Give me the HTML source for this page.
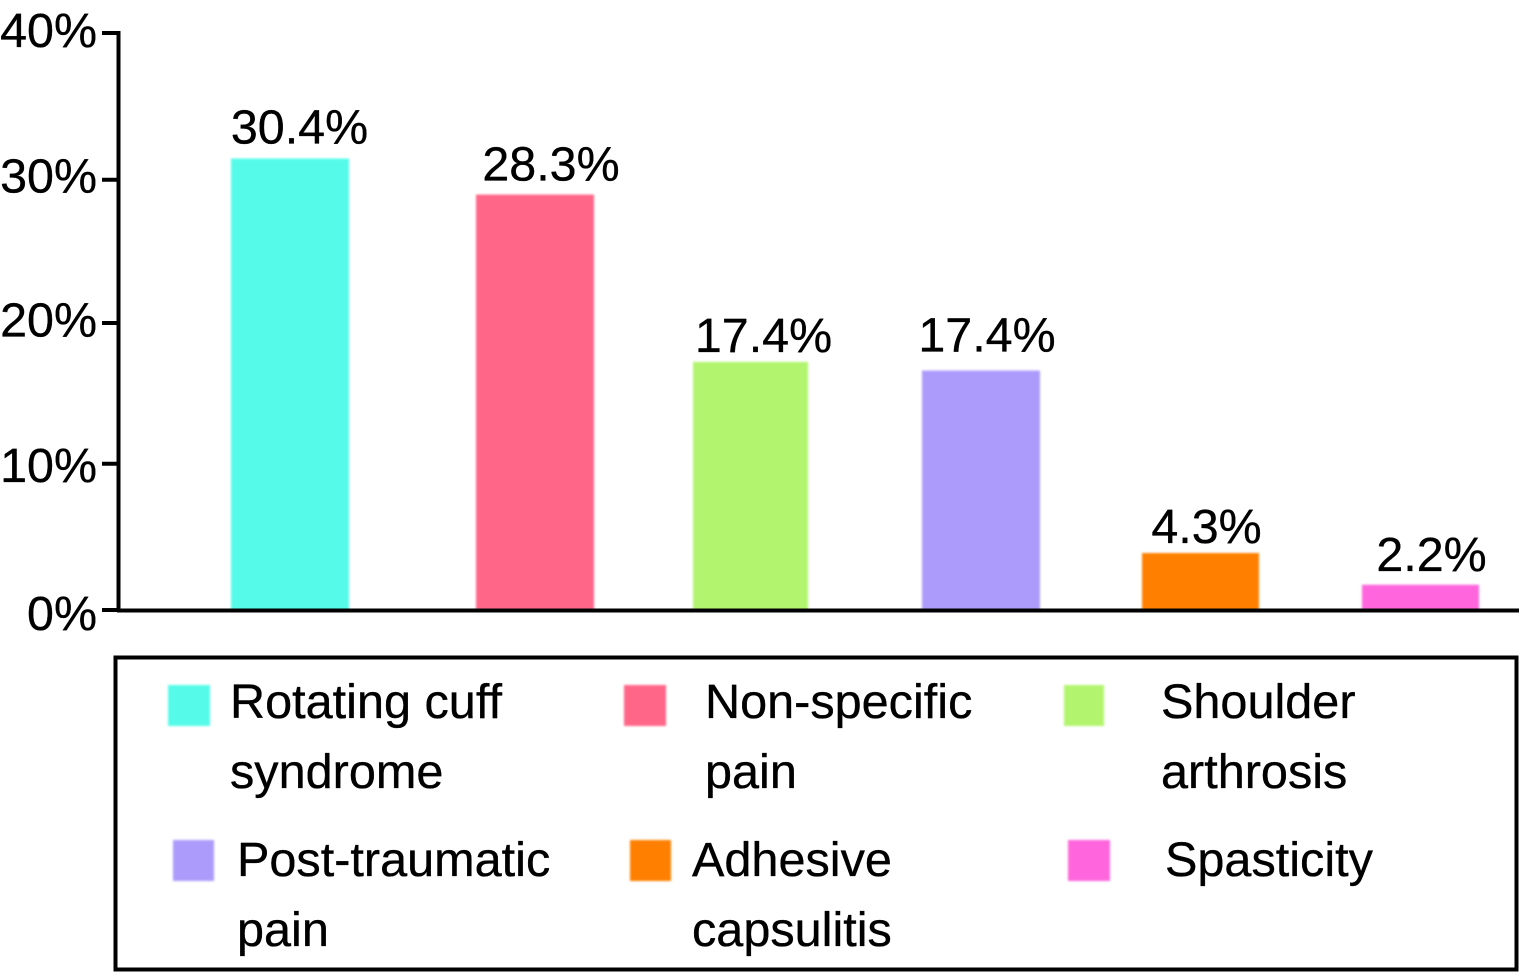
<!DOCTYPE html>
<html lang="en">
<head>
<meta charset="utf-8">
<title>Shoulder pain causes</title>
<style>
html,body{margin:0;padding:0;background:#fff;width:1521px;height:972px;overflow:hidden}
svg{display:block}
text{font-family:"Liberation Sans",Arial,sans-serif;font-size:48.4px;fill:#000;stroke:#000;stroke-width:.35px}
</style>
</head>
<body>
<svg id="chart" xmlns="http://www.w3.org/2000/svg" width="1521" height="972" viewBox="0 0 1521 972">
  <defs><filter id="soft" x="-5%" y="-5%" width="110%" height="110%"><feGaussianBlur stdDeviation="1.1"/></filter></defs>
  <g id="bars"></g>
  <g id="labels"></g>
  <g id="axis"></g>
  <line x1="117" y1="610.5" x2="1519" y2="610.5" stroke="#000" stroke-width="4"/>
  <rect x="115.5" y="657.5" width="1401" height="312" fill="none" stroke="#000" stroke-width="4"/>
  <g id="legend"></g>
</svg>
<script>
// Chart data
const categories = [
  ["Rotating cuff", "syndrome"],
  ["Non-specific", "pain"],
  ["Shoulder", "arthrosis"],
  ["Post-traumatic", "pain"],
  ["Adhesive", "capsulitis"],
  ["Spasticity"]
];
const barValues = [31.3, 28.8, 17.2, 16.6, 3.95, 1.75];
const printedValues = ["30.4%", "28.3%", "17.4%", "17.4%", "4.3%", "2.2%"];
const tickValues = [0, 10, 20, 30, 40];
const tickLabels = ["0%", "10%", "20%", "30%", "40%"];
const barColors = ["#55fbe8", "#ff6688", "#b2f46e", "#ad9bfb", "#ff8000", "#ff66dd"];

// Layout (separate from data): the source figure is hand-placed and slightly irregular
const slotNudge = [0, 19, 8.5, 13, 6.5, 0.5];
const slotWidth = [118, 118, 115, 118, 117, 117];
const labelNudgeX = [9.5, 16, 13, 6, 6, 11];
const labelGap = [15, 14, 10, 19, 10, 14];
const tickMarkNudge = [0, -2, 1.5, 2.5, 0];
const tickLabelNudge = [6, 2, 1, 1, 0];
const legendSwatch = [[168,685,42,41],[624,685,42,41],[1064,685,40,41],[173,840,41,41],[630,840,41,41],[1068,840,42,41]];
const legendText = [[230,718],[705,718],[1161,718],[237,876],[692,876],[1165,876]];

const NS = "http://www.w3.org/2000/svg";
const y0 = 610, y40 = 33, x0 = 290, slotStep = 226;
function yScale(v){ return y0 - (v / 40) * (y0 - y40); }
function xScale(i){ return x0 + i * slotStep + slotNudge[i]; }
function make(tag, attrs, parent){
  const el = document.createElementNS(NS, tag);
  for (const k in attrs) el.setAttribute(k, attrs[k]);
  parent.appendChild(el);
  return el;
}

const barsG = document.getElementById("bars");
const labelsG = document.getElementById("labels");
barValues.forEach(function(v, i){
  const bar = make("rect", {x: xScale(i) - slotWidth[i] / 2, y: yScale(v), width: slotWidth[i], height: y0 - yScale(v), fill: barColors[i], filter: "url(#soft)"}, barsG);
  
  
  const lab = make("text", {x: xScale(i) + labelNudgeX[i], y: yScale(v) - labelGap[i], "text-anchor": "middle"}, labelsG);
  lab.textContent = printedValues[i];
  
  
});

const axisG = document.getElementById("axis");
const spine = make("line", {x1: 118.5, y1: 31, x2: 118.5, y2: 612, stroke: "#000", "stroke-width": 4}, axisG);


tickValues.forEach(function(t, i){
  const y = yScale(t);
  const tick = make("line", {x1: 102, y1: y + tickMarkNudge[i], x2: 118, y2: y + tickMarkNudge[i], stroke: "#000", "stroke-width": 4}, axisG);
  
  
  const lab = make("text", {x: 97, y: y + 14 + tickLabelNudge[i], "text-anchor": "end"}, axisG);
  lab.textContent = tickLabels[i];
  
  
});

const legendG = document.getElementById("legend");
categories.forEach(function(lines, i){
  const s = legendSwatch[i];
  const sw = make("rect", {x: s[0], y: s[1], width: s[2], height: s[3], fill: barColors[i], filter: "url(#soft)"}, legendG);
  
  
  lines.forEach(function(line, j){
    const t = make("text", {x: legendText[i][0], y: legendText[i][1] + j * 70, style: "font-size:48.6px"}, legendG);
    t.textContent = line;
    
    
  });
});
</script>
</body>
</html>
